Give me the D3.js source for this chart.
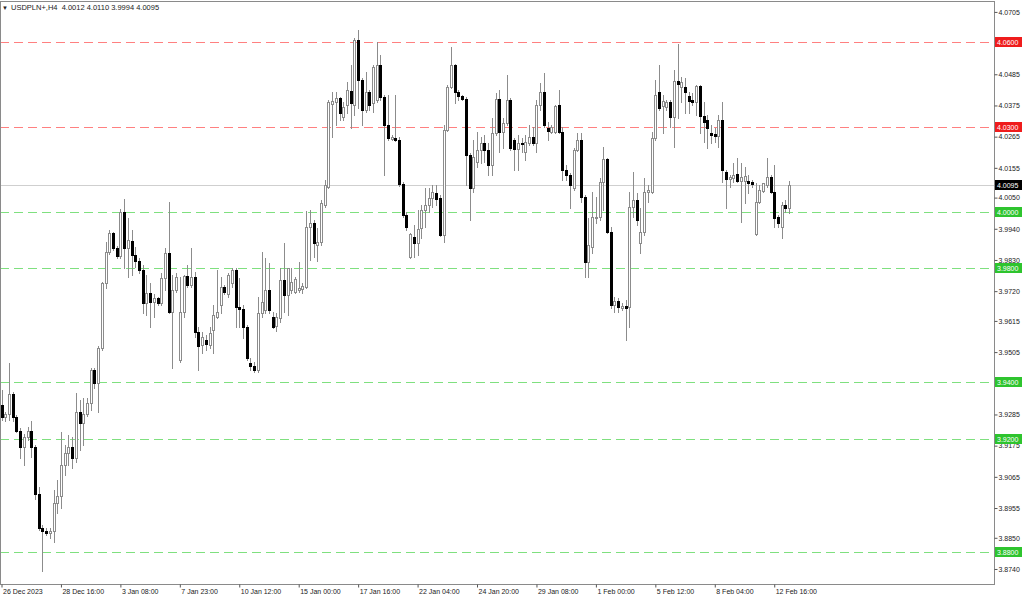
<!DOCTYPE html>
<html>
<head>
<meta charset="utf-8">
<script src="https://cdn.jsdelivr.net/npm/d3@7"></script>
<style>
  html, body { margin: 0; padding: 0; background: #ffffff; }
  svg { display: block; font-family: 'Liberation Sans', Arial, sans-serif; }
</style>
</head>
<body>
<div id="chart"></div>
<script>
const symbol = 'USDPLN+,H4'

const opens = [
  3.9318, 3.9275, 3.9286, 3.9357, 3.9275, 3.9226, 3.9170, 3.9205, 3.9226, 3.9170,
  3.9004, 3.8884, 3.8873, 3.8866, 3.8873, 3.8972, 3.8997, 3.9106, 3.9148, 3.9170,
  3.9131, 3.9293, 3.9254, 3.9286, 3.9325, 3.9441, 3.9395, 3.9519, 3.9748, 3.9858,
  3.9925, 3.9872, 3.9844, 3.9999, 3.9872, 3.9897, 3.9847, 3.9826, 3.9794, 3.9678,
  3.9713, 3.9681, 3.9695, 3.9678, 3.9766, 3.9854, 3.9646, 3.9724, 3.9477, 3.9646,
  3.9773, 3.9741, 3.9770, 3.9575, 3.9530, 3.9547, 3.9530, 3.9582, 3.9628, 3.9671,
  3.9734, 3.9710, 3.9748, 3.9794, 3.9664, 3.9657, 3.9593, 3.9466, 3.9455, 3.9441,
  3.9642, 3.9653, 3.9724, 3.9628, 3.9596, 3.9625, 3.9759, 3.9706, 3.9724, 3.9717,
  3.9724, 3.9727, 3.9734, 3.9946, 3.9960, 3.9882, 3.9893, 4.0024, 4.0087, 4.0380,
  4.0387, 4.0401, 4.0334, 4.0376, 4.0426, 4.0376, 4.0606, 4.0465, 4.0359, 4.0422,
  4.0383, 4.0394, 4.0518, 4.0405, 4.0306, 4.0256, 4.0260, 4.0253, 4.0098, 3.9988,
  3.9840, 3.9911, 3.9890, 3.9942, 4.0006, 4.0024, 4.0048, 4.0066, 4.0048, 3.9918,
  4.0288, 4.0440, 4.0518, 4.0422, 4.0408, 4.0398, 4.0200, 4.0084, 4.0175, 4.0218,
  4.0242, 4.0218, 4.0165, 4.0278, 4.0398, 4.0281, 4.0313, 4.0394, 4.0253, 4.0221,
  4.0242, 4.0211, 4.0242, 4.0264, 4.0242, 4.0376, 4.0422, 4.0295, 4.0281, 4.0281,
  4.0376, 4.0281, 4.0147, 4.0129, 4.0084, 4.0218, 4.0253, 4.0052, 3.9822, 3.9875,
  3.9978, 3.9981, 4.0105, 4.0186, 3.9928, 3.9671, 3.9685, 3.9660, 3.9667, 3.9664,
  4.0017, 4.0041, 3.9890, 3.9928, 4.0069, 4.0069, 4.0260, 4.0422, 4.0373, 4.0369,
  4.0387, 4.0334, 4.0461, 4.0440, 4.0440, 4.0408, 4.0394, 4.0387, 4.0443, 4.0338,
  4.0323, 4.0278, 4.0274, 4.0267, 4.0323, 4.0140, 4.0115, 4.0119, 4.0133, 4.0108,
  4.0108, 4.0108, 4.0105, 3.9921, 4.0034, 4.0073, 4.0094, 4.0122, 4.0069, 3.9981,
  3.9946, 4.0024, 4.0012
]

const highs = [
  3.9371, 3.9293, 3.9466, 3.9364, 3.9282, 3.9237, 3.9215, 3.9240, 3.9261, 3.9177,
  3.9028, 3.8894, 3.8884, 3.8884, 3.9018, 3.9053, 3.9222, 3.9177, 3.9212, 3.9205,
  3.9360, 3.9335, 3.9342, 3.9342, 3.9448, 3.9448, 3.9526, 3.9752, 3.9893, 3.9935,
  3.9928, 3.9879, 4.0009, 4.0045, 3.9978, 3.9935, 3.9875, 3.9837, 3.9812, 3.9777,
  3.9748, 3.9710, 3.9699, 3.9784, 3.9872, 4.0034, 3.9777, 3.9784, 3.9770, 3.9777,
  3.9812, 3.9872, 3.9787, 3.9593, 3.9575, 3.9565, 3.9593, 3.9671, 3.9794, 3.9770,
  3.9741, 3.9784, 3.9801, 3.9801, 3.9766, 3.9671, 3.9600, 3.9484, 3.9470, 3.9699,
  3.9858, 3.9837, 3.9819, 3.9646, 3.9642, 3.9801, 3.9890, 3.9801, 3.9801, 3.9770,
  3.9822, 3.9748, 4.0002, 4.0006, 3.9971, 3.9942, 4.0041, 4.0112, 4.0394, 4.0422,
  4.0422, 4.0405, 4.0387, 4.0458, 4.0518, 4.0613, 4.0641, 4.0472, 4.0493, 4.0429,
  4.0518, 4.0599, 4.0553, 4.0412, 4.0412, 4.0271, 4.0412, 4.0264, 4.0105, 3.9999,
  3.9925, 3.9953, 4.0006, 4.0024, 4.0084, 4.0084, 4.0094, 4.0094, 4.0059, 4.0306,
  4.0447, 4.0581, 4.0521, 4.0429, 4.0412, 4.0405, 4.0207, 4.0253, 4.0281, 4.0264,
  4.0271, 4.0242, 4.0331, 4.0419, 4.0429, 4.0331, 4.0482, 4.0401, 4.0260, 4.0271,
  4.0260, 4.0271, 4.0306, 4.0299, 4.0394, 4.0454, 4.0489, 4.0316, 4.0306, 4.0376,
  4.0429, 4.0299, 4.0165, 4.0137, 4.0225, 4.0278, 4.0278, 4.0059, 3.9978, 4.0069,
  4.0052, 4.0119, 4.0228, 4.0189, 3.9946, 3.9699, 3.9695, 3.9678, 3.9688, 4.0069,
  4.0140, 4.0066, 4.0013, 4.0119, 4.0094, 4.0281, 4.0465, 4.0518, 4.0412, 4.0394,
  4.0394, 4.0500, 4.0592, 4.0475, 4.0472, 4.0422, 4.0419, 4.0447, 4.0447, 4.0387,
  4.0341, 4.0306, 4.0295, 4.0341, 4.0387, 4.0147, 4.0129, 4.0172, 4.0189, 4.0172,
  4.0158, 4.0129, 4.0112, 4.0101, 4.0094, 4.0101, 4.0189, 4.0129, 4.0165, 3.9988,
  4.0034, 4.0041, 4.0110
]

const lows = [
  3.9265, 3.9261, 3.9265, 3.9261, 3.9222, 3.9131, 3.9106, 3.9194, 3.9134, 3.8986,
  3.8877, 3.8732, 3.8859, 3.8848, 3.8834, 3.8937, 3.8954, 3.9071, 3.9106, 3.9095,
  3.9117, 3.9159, 3.9177, 3.9279, 3.9300, 3.9378, 3.9293, 3.9512, 3.9731, 3.9851,
  3.9865, 3.9837, 3.9837, 3.9801, 3.9770, 3.9777, 3.9805, 3.9784, 3.9642, 3.9635,
  3.9593, 3.9628, 3.9671, 3.9671, 3.9724, 3.9642, 3.9448, 3.9717, 3.9470, 3.9628,
  3.9734, 3.9734, 3.9560, 3.9441, 3.9501, 3.9512, 3.9519, 3.9501, 3.9625, 3.9642,
  3.9710, 3.9699, 3.9734, 3.9593, 3.9593, 3.9554, 3.9477, 3.9441, 3.9434, 3.9434,
  3.9628, 3.9642, 3.9642, 3.9589, 3.9579, 3.9611, 3.9646, 3.9635, 3.9713, 3.9713,
  3.9717, 3.9713, 3.9731, 3.9830, 3.9840, 3.9826, 3.9882, 4.0017, 4.0084, 4.0264,
  4.0306, 4.0324, 4.0324, 4.0348, 4.0295, 4.0341, 4.0366, 4.0306, 4.0352, 4.0359,
  4.0352, 4.0387, 4.0394, 4.0129, 4.0253, 4.0253, 4.0249, 4.0091, 3.9981, 3.9935,
  3.9837, 3.9840, 3.9847, 3.9907, 3.9946, 3.9999, 4.0017, 4.0024, 3.9914, 3.9893,
  4.0285, 4.0436, 4.0383, 4.0394, 4.0394, 4.0094, 3.9971, 4.0069, 4.0158, 4.0172,
  4.0175, 4.0129, 4.0129, 4.0271, 4.0211, 4.0225, 4.0306, 4.0218, 4.0147, 4.0147,
  4.0211, 4.0182, 4.0235, 4.0235, 4.0211, 4.0359, 4.0299, 4.0253, 4.0278, 4.0278,
  4.0278, 4.0112, 4.0112, 4.0013, 4.0077, 4.0214, 4.0034, 3.9770, 3.9770, 3.9854,
  3.9960, 3.9971, 4.0006, 3.9925, 3.9660, 3.9646, 3.9646, 3.9653, 3.9547, 3.9593,
  3.9981, 3.9953, 3.9854, 3.9918, 4.0034, 4.0066, 4.0253, 4.0359, 4.0278, 4.0359,
  4.0299, 4.0228, 4.0331, 4.0387, 4.0348, 4.0348, 4.0376, 4.0341, 4.0278, 4.0246,
  4.0225, 4.0242, 4.0246, 4.0228, 4.0105, 4.0013, 4.0087, 4.0105, 4.0105, 3.9964,
  4.0031, 4.0066, 4.0087, 3.9918, 4.0031, 4.0069, 4.0087, 4.0066, 3.9946, 3.9946,
  3.9907, 3.9999, 3.9994
]

const closes = [
  3.9275, 3.9286, 3.9357, 3.9275, 3.9226, 3.9170, 3.9205, 3.9226, 3.9170, 3.9004,
  3.8884, 3.8873, 3.8866, 3.8873, 3.8972, 3.8997, 3.9106, 3.9148, 3.9170, 3.9131,
  3.9293, 3.9254, 3.9286, 3.9325, 3.9441, 3.9395, 3.9519, 3.9748, 3.9858, 3.9925,
  3.9872, 3.9844, 3.9999, 3.9872, 3.9900, 3.9847, 3.9826, 3.9794, 3.9678, 3.9713,
  3.9681, 3.9695, 3.9678, 3.9766, 3.9854, 3.9646, 3.9724, 3.9770, 3.9646, 3.9773,
  3.9741, 3.9770, 3.9575, 3.9526, 3.9558, 3.9533, 3.9572, 3.9635, 3.9646, 3.9734,
  3.9717, 3.9777, 3.9794, 3.9664, 3.9657, 3.9593, 3.9484, 3.9455, 3.9441, 3.9642,
  3.9681, 3.9724, 3.9653, 3.9593, 3.9628, 3.9759, 3.9706, 3.9801, 3.9752, 3.9762,
  3.9731, 3.9738, 3.9946, 3.9960, 3.9890, 3.9893, 4.0031, 4.0094, 4.0387, 4.0391,
  4.0401, 4.0348, 4.0369, 4.0429, 4.0383, 4.0606, 4.0465, 4.0359, 4.0422, 4.0376,
  4.0511, 4.0518, 4.0405, 4.0306, 4.0260, 4.0264, 4.0253, 4.0098, 3.9988, 3.9946,
  3.9921, 3.9890, 3.9939, 4.0006, 4.0024, 4.0048, 4.0069, 4.0045, 3.9918, 4.0288,
  4.0440, 4.0518, 4.0422, 4.0408, 4.0398, 4.0200, 4.0084, 4.0193, 4.0218, 4.0242,
  4.0218, 4.0165, 4.0278, 4.0398, 4.0281, 4.0313, 4.0394, 4.0225, 4.0221, 4.0242,
  4.0239, 4.0246, 4.0264, 4.0242, 4.0376, 4.0422, 4.0306, 4.0285, 4.0299, 4.0373,
  4.0281, 4.0147, 4.0129, 4.0094, 4.0218, 4.0253, 4.0052, 3.9822, 3.9882, 3.9981,
  3.9981, 4.0105, 4.0186, 3.9928, 3.9671, 3.9685, 3.9664, 3.9667, 3.9660, 4.0017,
  4.0041, 3.9971, 3.9928, 4.0069, 4.0077, 4.0260, 4.0412, 4.0366, 4.0391, 4.0387,
  4.0334, 4.0461, 4.0451, 4.0458, 4.0422, 4.0391, 4.0387, 4.0443, 4.0338, 4.0316,
  4.0295, 4.0271, 4.0267, 4.0323, 4.0147, 4.0115, 4.0122, 4.0129, 4.0108, 4.0122,
  4.0126, 4.0101, 4.0098, 4.0034, 4.0077, 4.0101, 4.0122, 4.0069, 3.9978, 3.9960,
  4.0024, 4.0013, 4.0095
]

// bar index of each time label on the bottom scale
const labelBars = [0, 16, 32, 48, 64, 80, 96, 112, 128, 144, 160, 176, 192, 208]
const timeLabels = ['26 Dec 2023', '28 Dec 16:00', '3 Jan 08:00', '7 Jan 23:00', '10 Jan 12:00',
                    '15 Jan 00:00', '17 Jan 16:00', '22 Jan 04:00', '24 Jan 20:00', '29 Jan 08:00',
                    '1 Feb 00:00', '5 Feb 12:00', '8 Feb 04:00', '12 Feb 16:00']

const priceTicks = [4.0705, 4.0485, 4.0375, 4.0265, 4.0155, 4.0050, 3.9940, 3.9830, 3.9720,
                    3.9615, 3.9505, 3.9285, 3.9175, 3.9065, 3.8955, 3.8850, 3.8740]
const redLevels = [4.0600, 4.0300]
const greenLevels = [4.0000, 3.9800, 3.9400, 3.9200, 3.8800]
const lastPrice = 4.0095

const width = 1024, height = 599
const plotRight = 994, plotBottom = 584

const xScale = d3.scaleLinear().domain([0, 267]).range([1.5, 1.5 + 3.715 * 267])
const yScale = d3.scaleLinear().domain([3.8687, 4.0747]).range([plotBottom, 0])
const fmt = d3.format('.4f')
const py = v => Math.round(yScale(v)) + 0.5

const candles = d3.range(closes.length).map(i => ({
    i, o: opens[i], h: highs[i], l: lows[i], c: closes[i]
}))

const svg = d3.select('#chart').append('svg')
              .attr('width', width)
              .attr('height', height)
              .style('background', '#ffffff')

// level lines
const levels = redLevels.map(v => ({ v, color: '#ff8080', box: '#ef1c1c' }))
    .concat(greenLevels.map(v => ({ v, color: '#7fe07f', box: '#2ec42e' })))

svg.append('g').selectAll('line')
   .data(levels)
   .join('line')
   .attr('x1', 0)
   .attr('x2', plotRight)
   .attr('y1', d => py(d.v))
   .attr('y2', d => py(d.v))
   .attr('stroke', d => d.color)
   .attr('stroke-dasharray', '9,5')

// last price line
svg.append('line')
   .attr('x1', 0)
   .attr('x2', plotRight)
   .attr('y1', py(lastPrice))
   .attr('y2', py(lastPrice))
   .attr('stroke', '#cfcfcf')

// candles
const bars = svg.append('g')
const up = d => d.c >= d.o

bars.selectAll('line')
    .data(candles)
    .join('line')
    .attr('x1', d => Math.round(xScale(d.i)) + 0.5)
    .attr('x2', d => Math.round(xScale(d.i)) + 0.5)
    .attr('y1', d => Math.round(yScale(d.h)))
    .attr('y2', d => Math.round(yScale(d.l)) + 1)
    .attr('stroke', '#8c8c8c')

bars.selectAll('rect')
    .data(candles)
    .join('rect')
    .attr('x', d => Math.round(xScale(d.i)) - 0.5)
    .attr('y', d => py(Math.max(d.o, d.c)))
    .attr('width', 2)
    .attr('height', d => Math.max(0, Math.round(yScale(Math.min(d.o, d.c))) - Math.round(yScale(Math.max(d.o, d.c)))))
    .attr('fill', d => up(d) ? '#ffffff' : '#000000')
    .attr('stroke', d => up(d) ? '#8c8c8c' : '#000000')

// frame
svg.append('rect')
   .attr('x', 0.5)
   .attr('y', 1.5)
   .attr('width', plotRight)
   .attr('height', plotBottom - 1)
   .attr('fill', 'none')
   .attr('stroke', '#8a8a8a')

// price axis
const yAxis = svg.append('g')
                 .attr('transform', `translate(${plotRight + 0.5}, 0)`)
                 .call(d3.axisRight(yScale).tickValues(priceTicks).tickFormat(fmt)
                         .tickSize(3).tickPadding(1).tickSizeOuter(0))
yAxis.select('.domain').remove()
yAxis.selectAll('line').attr('stroke', '#555')
yAxis.selectAll('text')
     .style('font-size', '7px')
     .style('font-family', 'Liberation Sans, Arial, sans-serif')
     .attr('fill', '#222')

// time axis
const xAxis = svg.append('g')
                 .attr('transform', `translate(0, ${plotBottom + 0.5})`)
                 .call(d3.axisBottom(xScale).tickValues(labelBars).tickFormat((d, k) => timeLabels[k])
                         .tickSize(3).tickSizeOuter(0))
xAxis.select('.domain').remove()
xAxis.selectAll('line').attr('stroke', '#555')
xAxis.selectAll('text')
     .attr('text-anchor', 'start')
     .attr('x', 1)
     .attr('y', 5)
     .style('font-size', '7px')
     .style('font-family', 'Liberation Sans, Arial, sans-serif')
     .attr('fill', '#222')

// level boxes on the price scale
const boxes = svg.append('g')
const allBoxes = levels.concat([{ v: lastPrice, box: '#000000' }])

boxes.selectAll('rect')
     .data(allBoxes)
     .join('rect')
     .attr('x', plotRight + 1)
     .attr('y', d => Math.round(yScale(d.v)) - 5)
     .attr('width', 27)
     .attr('height', 10)
     .attr('fill', d => d.box)

boxes.selectAll('text')
     .data(allBoxes)
     .join('text')
     .text(d => fmt(d.v))
     .attr('x', plotRight + 3)
     .attr('y', d => Math.round(yScale(d.v)) + 3)
     .style('font-size', '7px')
     .attr('fill', '#ffffff')

// header
const last = candles[candles.length - 1]
svg.append('text')
   .text('\u25BC')
   .attr('x', 2)
   .attr('y', 10)
   .style('font-size', '6px')
   .attr('fill', '#222')

svg.append('text')
   .text(`${symbol}  ${fmt(last.o)} ${fmt(last.h)} ${fmt(last.l)} ${fmt(last.c)}`)
   .attr('x', 11)
   .attr('y', 10)
   .attr('xml:space', 'preserve')
   .style('white-space', 'pre')
   .style('font-size', '7.5px')
   .attr('fill', '#222')
</script>
</body>
</html>
